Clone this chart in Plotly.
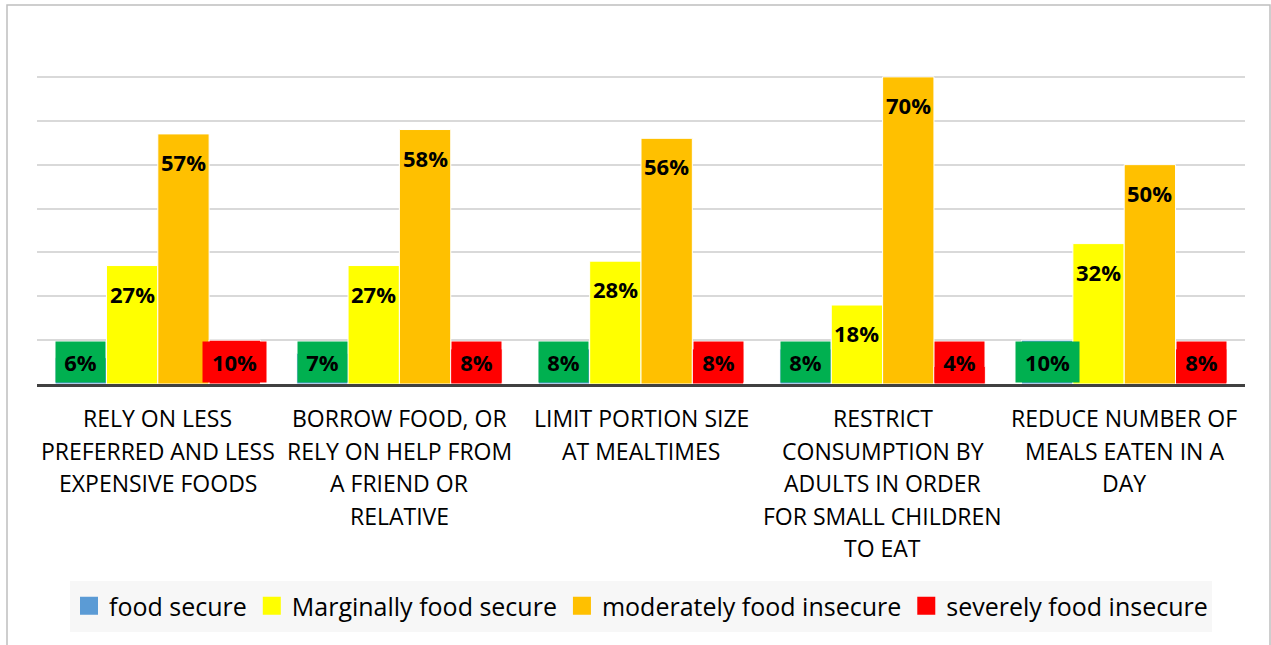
import plotly.graph_objects as go

# Coping strategies (category labels, one entry per line of text)
category_lines = [
    ["RELY ON LESS", "PREFERRED AND LESS", "EXPENSIVE FOODS"],
    ["BORROW FOOD, OR", "RELY ON HELP FROM", "A FRIEND OR", "RELATIVE"],
    ["LIMIT PORTION SIZE", "AT MEALTIMES"],
    ["RESTRICT", "CONSUMPTION BY", "ADULTS IN ORDER", "FOR SMALL CHILDREN", "TO EAT"],
    ["REDUCE NUMBER OF", "MEALS EATEN IN A", "DAY"],
]
categories = [" ".join(lines) for lines in category_lines]

series_names = ["food secure", "Marginally food secure",
                "moderately food insecure", "severely food insecure"]
food_secure = [6, 7, 8, 8, 10]
marginally_secure = [27, 27, 28, 18, 32]
moderately_insecure = [57, 58, 56, 70, 50]
severely_insecure = [10, 8, 8, 4, 8]
series_values = [food_secure, marginally_secure, moderately_insecure, severely_insecure]

bar_colors = ["#5B9BD5", "#FFFF00", "#FFC000", "#FF0000"]
# Filled label boxes (None = plain label inside the bar top)
label_box_colors = ["#00B050", None, None, "#FF0000"]

FONT = "Open Sans"
W, H = 1271, 645
ML, MR, MT, MB = 37, 26, 33, 261
PLOT_W = W - ML - MR
PLOT_H = H - MT - MB
BARGAP = 0.15

def px_x(px):
    return (px - ML) / PLOT_W

def px_y(py):
    return (H - MB - py) / PLOT_H

fig = go.Figure()
for name, vals, color in zip(series_names, series_values, bar_colors):
    fig.add_trace(go.Bar(
        name=name, x=categories, y=vals, showlegend=False,
        marker=dict(color=color, line=dict(color="white", width=1)),
        hoverinfo="skip",
    ))

# Legend entries with larger square swatches
for name, color in zip(series_names, bar_colors):
    fig.add_trace(go.Scatter(
        name=name, x=[None], y=[None], mode="markers",
        marker=dict(symbol="square", size=16, color=color,
                    line=dict(color=color, width=2)),
        showlegend=True, hoverinfo="skip",
    ))

annotations = []
group_px = PLOT_W / len(categories)
bar_px = group_px * (1 - BARGAP) / len(series_names)
for k, (vals, box) in enumerate(zip(series_values, label_box_colors)):
    shift = (k - (len(series_names) - 1) / 2) * bar_px
    for cat, v in zip(categories, vals):
        label = f"{v}%"
        if box:
            annotations.append(dict(
                x=cat, y=0, xref="x", yref="y", xshift=shift, yshift=1,
                yanchor="bottom", text=label, showarrow=False,
                bgcolor=box, borderpad=5, width=14 * len(label) + 11,
                font=dict(family=FONT, size=22, color="black", weight=700),
            ))
        else:
            annotations.append(dict(
                x=cat, y=v, xref="x", yref="y", xshift=shift, yshift=-28,
                yanchor="middle", text=label, showarrow=False,
                font=dict(family=FONT, size=22, color="black", weight=700),
            ))

# Multi-line category labels under the axis
for cat, lines in zip(categories, category_lines):
    for j, line in enumerate(lines):
        annotations.append(dict(
            x=cat, y=0, xref="x", yref="paper", yanchor="middle",
            yshift=-(34 + 32.5 * j), text=line, showarrow=False,
            font=dict(family=FONT, size=23, color="black"),
        ))

shapes = [
    # chart frame
    dict(type="rect", xref="paper", yref="paper",
         x0=px_x(7), x1=px_x(1270), y0=px_y(660), y1=px_y(5),
         line=dict(color="#BFBFBF", width=1.5), layer="below"),
    # legend band
    dict(type="rect", xref="paper", yref="paper",
         x0=px_x(70), x1=px_x(1212), y0=px_y(632), y1=px_y(581),
         line=dict(width=0), fillcolor="#F7F7F7", layer="below"),
]

fig.update_layout(
    width=W, height=H,
    margin=dict(l=ML, r=MR, t=MT, b=MB, autoexpand=False),
    paper_bgcolor="white", plot_bgcolor="white",
    barmode="group", bargap=BARGAP, bargroupgap=0,
    font=dict(family=FONT, color="black"),
    xaxis=dict(showticklabels=False, showgrid=False, ticks="",
               showline=True, linecolor="#404040", linewidth=3, zeroline=False),
    yaxis=dict(range=[0, 80], dtick=10, showticklabels=False,
               gridcolor="#D9D9D9", gridwidth=2, zeroline=False, showline=False),
    legend=dict(orientation="h", x=0.5, xanchor="center",
                y=px_y(606), yanchor="middle",
                bgcolor="rgba(0,0,0,0)", itemwidth=30,
                font=dict(family=FONT, size=25, color="black")),
    annotations=annotations,
    shapes=shapes,
    showlegend=True,
)

fig.write_html("out.html")
